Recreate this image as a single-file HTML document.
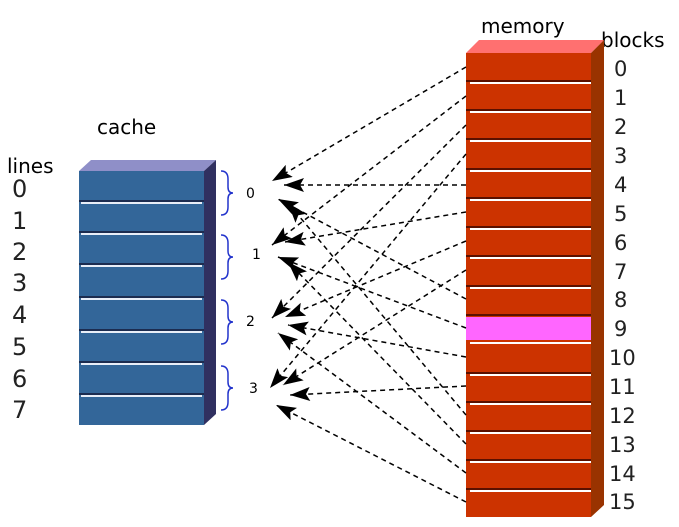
<!DOCTYPE html>
<html><head><meta charset="utf-8"><style>
html,body{margin:0;padding:0;background:#fff;}
svg{display:block;}
text{font-family:"DejaVu Sans","Liberation Sans",sans-serif;}
</style></head><body>
<svg width="679" height="527" viewBox="0 0 679 527" xmlns="http://www.w3.org/2000/svg">
<defs>
<marker id="ah" markerWidth="20" markerHeight="14" refX="20" refY="7" orient="auto" markerUnits="userSpaceOnUse">
<path d="M0,0 L20,7 L0,14 L4,7 z" fill="#000"/>
</marker>
</defs>
<text x="97" y="134" font-size="20" fill="#000">cache</text>
<text x="7" y="173" font-size="20" fill="#000">lines</text>
<g font-size="24" fill="#222">
<text x="12" y="197">0</text><text x="12" y="229">1</text><text x="12" y="260">2</text><text x="12" y="291">3</text>
<text x="12" y="323">4</text><text x="12" y="355">5</text><text x="12" y="387">6</text><text x="12" y="418">7</text>
</g>
<text x="481" y="33" font-size="20" fill="#000">memory</text>
<text x="601" y="47" font-size="20" fill="#000">blocks</text>
<g font-size="21" fill="#222">
<text x="614" y="76">0</text><text x="614" y="105">1</text><text x="614" y="134">2</text><text x="614" y="163">3</text>
<text x="614" y="192">4</text><text x="614" y="221">5</text><text x="614" y="250">6</text><text x="614" y="279">7</text>
<text x="614" y="307">8</text><text x="614" y="336">9</text><text x="609" y="365">10</text><text x="609" y="394">11</text>
<text x="609" y="423">12</text><text x="609" y="452">13</text><text x="609" y="481">14</text><text x="609" y="509">15</text>
</g>
<polygon points="79,171 91,160 216,160 204,171" fill="#8f8fc8"/>
<polygon points="204,171 216,160 216,414 204,425" fill="#303060"/>
<rect x="79" y="171" width="125" height="254" fill="#336699"/>
<g>
<rect x="79" y="200" width="125" height="2" fill="#1c2c50"/><rect x="81" y="202" width="121" height="2" fill="#e8eef8"/>
<rect x="79" y="231" width="125" height="2" fill="#1c2c50"/><rect x="81" y="233" width="121" height="2" fill="#e8eef8"/>
<rect x="79" y="263" width="125" height="2" fill="#1c2c50"/><rect x="81" y="265" width="121" height="2" fill="#e8eef8"/>
<rect x="79" y="296" width="125" height="2" fill="#1c2c50"/><rect x="81" y="298" width="121" height="2" fill="#e8eef8"/>
<rect x="79" y="329" width="125" height="2" fill="#1c2c50"/><rect x="81" y="331" width="121" height="2" fill="#e8eef8"/>
<rect x="79" y="361" width="125" height="2" fill="#1c2c50"/><rect x="81" y="363" width="121" height="2" fill="#e8eef8"/>
<rect x="79" y="393" width="125" height="2" fill="#1c2c50"/><rect x="81" y="395" width="121" height="2" fill="#e8eef8"/>
</g>
<g fill="none" stroke="#2233cc" stroke-width="1.5">
<path d="M221,171 q7,0 7,8 v8 q0,6 5,6 q-5,0 -5,6 v8 q0,8 -7,8"/>
<path d="M221,235 q7,0 7,8 v8 q0,6 5,6 q-5,0 -5,6 v8 q0,8 -7,8"/>
<path d="M221,300 q7,0 7,8 v8 q0,6 5,6 q-5,0 -5,6 v8 q0,8 -7,8"/>
<path d="M221,366 q7,0 7,8 v8 q0,6 5,6 q-5,0 -5,6 v8 q0,8 -7,8"/>
</g>
<g font-size="14" fill="#000">
<text x="246" y="198">0</text><text x="252" y="259">1</text><text x="246" y="326">2</text><text x="249" y="393">3</text>
</g>
<polygon points="466,53 479,40 604,40 591,53" fill="#ff7070"/>
<polygon points="591,53 604,40 604,505 591,517" fill="#993300"/>
<rect x="466" y="53" width="125" height="464" fill="#cc3300"/>
<rect x="466" y="317" width="125" height="23" fill="#ff66ff"/>
<g>
<rect x="466" y="80" width="125" height="2" fill="#5a1000"/><rect x="470" y="82" width="121" height="2" fill="#fff"/>
<rect x="466" y="109" width="125" height="2" fill="#5a1000"/><rect x="470" y="111" width="121" height="2" fill="#fff"/>
<rect x="466" y="138" width="125" height="2" fill="#5a1000"/><rect x="470" y="140" width="121" height="2" fill="#fff"/>
<rect x="466" y="168" width="125" height="2" fill="#5a1000"/><rect x="470" y="170" width="121" height="2" fill="#fff"/>
<rect x="466" y="197" width="125" height="2" fill="#5a1000"/><rect x="470" y="199" width="121" height="2" fill="#fff"/>
<rect x="466" y="226" width="125" height="2" fill="#5a1000"/><rect x="470" y="228" width="121" height="2" fill="#fff"/>
<rect x="466" y="255" width="125" height="2" fill="#5a1000"/><rect x="470" y="257" width="121" height="2" fill="#fff"/>
<rect x="466" y="285" width="125" height="2" fill="#5a1000"/><rect x="470" y="287" width="121" height="2" fill="#fff"/>
<rect x="466" y="314" width="125" height="2" fill="#5a1000"/>
<rect x="470" y="342" width="121" height="2" fill="#fff"/>
<rect x="466" y="372" width="125" height="2" fill="#5a1000"/><rect x="470" y="374" width="121" height="2" fill="#fff"/>
<rect x="466" y="401" width="125" height="2" fill="#5a1000"/><rect x="470" y="403" width="121" height="2" fill="#fff"/>
<rect x="466" y="430" width="125" height="2" fill="#5a1000"/><rect x="470" y="432" width="121" height="2" fill="#fff"/>
<rect x="466" y="459" width="125" height="2" fill="#5a1000"/><rect x="470" y="461" width="121" height="2" fill="#fff"/>
<rect x="466" y="488" width="125" height="2" fill="#5a1000"/><rect x="470" y="490" width="121" height="2" fill="#fff"/>
</g>
<g stroke="#000" stroke-width="1.5" stroke-dasharray="5,4" fill="none" marker-end="url(#ah)">
<line x1="466" y1="67" x2="272" y2="181"/>
<line x1="466" y1="96" x2="272" y2="245"/>
<line x1="466" y1="125" x2="272" y2="318"/>
<line x1="466" y1="154" x2="270" y2="388"/>
<line x1="466" y1="185" x2="284" y2="185"/>
<line x1="466" y1="212" x2="285" y2="242"/>
<line x1="466" y1="241" x2="285" y2="317"/>
<line x1="466" y1="270" x2="283" y2="385"/>
<line x1="466" y1="299" x2="278" y2="199"/>
<line x1="466" y1="328" x2="278" y2="257"/>
<line x1="466" y1="357" x2="288" y2="325"/>
<line x1="466" y1="386" x2="290" y2="395"/>
<line x1="466" y1="415" x2="288" y2="203"/>
<line x1="466" y1="444" x2="288" y2="262"/>
<line x1="466" y1="473" x2="278" y2="333"/>
<line x1="466" y1="502" x2="276" y2="405"/>
</g>
</svg>
</body></html>
